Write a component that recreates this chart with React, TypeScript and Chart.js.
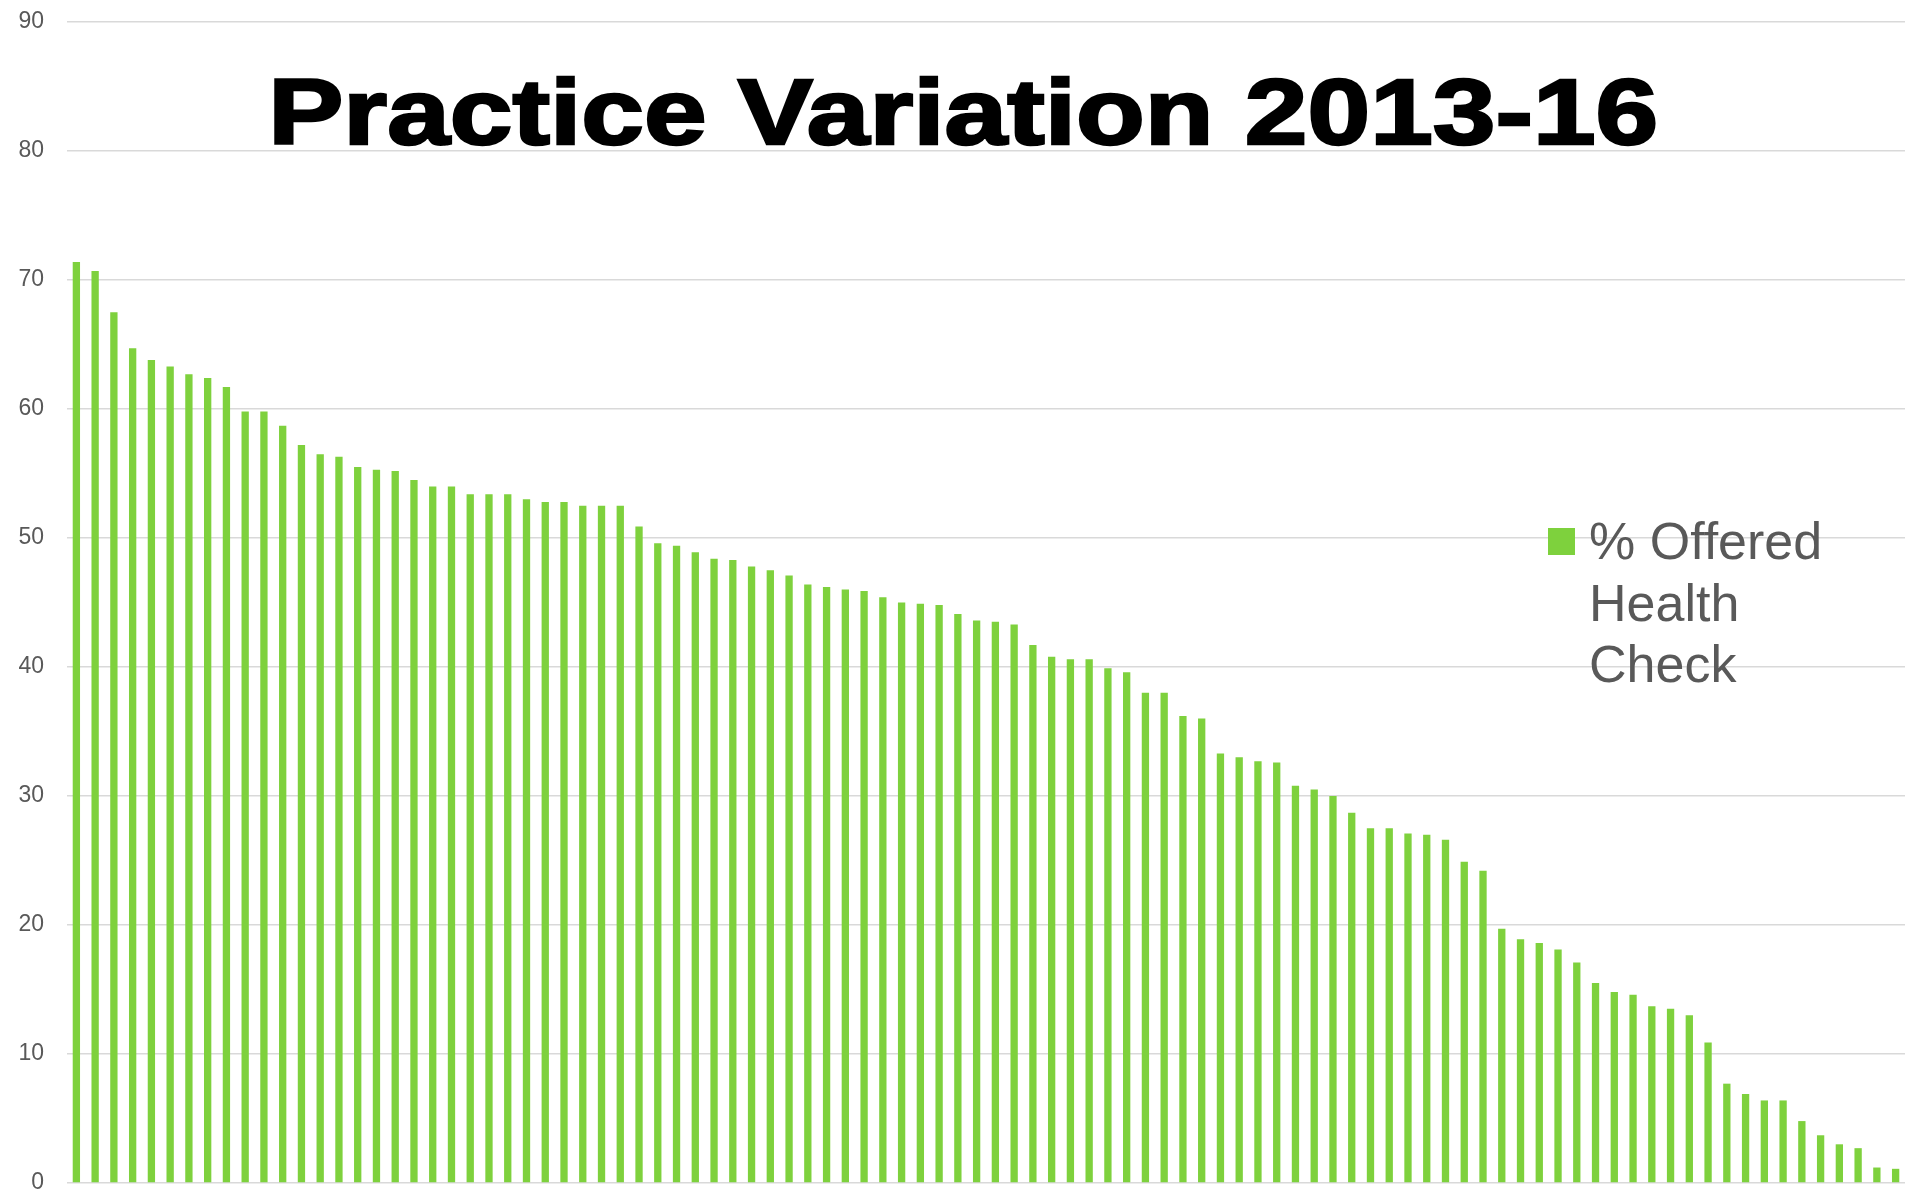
import React, { useEffect, useRef } from "react";
import { Chart, registerables } from "chart.js";

Chart.register(...registerables);

const chartTitle = "Practice Variation 2013-16";
const seriesLabel = ["% Offered", "Health", "Check"];
const yTicks = [0, 10, 20, 30, 40, 50, 60, 70, 80, 90];

const offeredValues: number[] = [
  71.4, 70.7, 67.5, 64.7, 63.8, 63.3, 62.7, 62.4, 61.7, 59.8,
  59.8, 58.7, 57.2, 56.5, 56.3, 55.5, 55.3, 55.2, 54.5, 54.0,
  54.0, 53.4, 53.4, 53.4, 53.0, 52.8, 52.8, 52.5, 52.5, 52.5,
  50.9, 49.6, 49.4, 48.9, 48.4, 48.3, 47.8, 47.5, 47.1, 46.4,
  46.2, 46.0, 45.9, 45.4, 45.0, 44.9, 44.8, 44.1, 43.6, 43.5,
  43.3, 41.7, 40.8, 40.6, 40.6, 39.9, 39.6, 38.0, 38.0, 36.2,
  36.0, 33.3, 33.0, 32.7, 32.6, 30.8, 30.5, 30.0, 28.7, 27.5,
  27.5, 27.1, 27.0, 26.6, 24.9, 24.2, 19.7, 18.9, 18.6, 18.1,
  17.1, 15.5, 14.8, 14.6, 13.7, 13.5, 13.0, 10.9, 7.7, 6.9,
  6.4, 6.4, 4.8, 3.7, 3.0, 2.7, 1.2, 1.1,
];

const practiceLabels: string[] = offeredValues.map((_, i) => `Practice ${i + 1}`);

const BAR_COLOR = "#7ed13d";
const TEXT_GRAY = "#595959";

const overlayPlugin = {
  id: "overlayText",
  afterDraw(chart: any) {
    const ctx = chart.ctx;
    ctx.save();
    // Title (heavy sans, stretched to the reference width)
    const targetLeft = 267;
    const targetWidth = 1393;
    const stroke = 2.5;
    ctx.font = `bold 93px "Liberation Sans", Arial, sans-serif`;
    const w = ctx.measureText(chartTitle).width + stroke;
    const sx = targetWidth / w;
    ctx.translate(targetLeft + stroke / 2, 0);
    ctx.scale(sx, 1);
    ctx.fillStyle = "#000000";
    ctx.strokeStyle = "#000000";
    ctx.lineWidth = stroke;
    ctx.lineJoin = "miter";
    ctx.textAlign = "left";
    ctx.textBaseline = "alphabetic";
    ctx.fillText(chartTitle, 0, 144);
    ctx.strokeText(chartTitle, 0, 144);
    ctx.restore();

    ctx.save();
    // Legend
    ctx.fillStyle = BAR_COLOR;
    ctx.fillRect(1548, 528, 27, 27);
    ctx.fillStyle = TEXT_GRAY;
    ctx.font = `52px "Liberation Sans", Arial, sans-serif`;
    ctx.textAlign = "left";
    ctx.textBaseline = "alphabetic";
    const baselines = [559, 621, 682];
    seriesLabel.forEach((t, i) => ctx.fillText(t, 1589, baselines[i]));
    ctx.restore();
  },
};

export default function App() {
  const canvasRef = useRef<HTMLCanvasElement | null>(null);

  useEffect(() => {
    const canvas = canvasRef.current;
    if (!canvas) return;
    const chart = new Chart(canvas, {
      type: "bar",
      data: {
        labels: practiceLabels,
        datasets: [
          {
            label: seriesLabel.join(" "),
            data: offeredValues,
            backgroundColor: BAR_COLOR,
            borderWidth: 0,
            barPercentage: 0.39,
            categoryPercentage: 1.0,
          },
        ],
      },
      options: {
        responsive: false,
        animation: false,
        devicePixelRatio: 1,
        layout: { padding: { top: 22, right: 0, bottom: 7, left: 0 } },
        plugins: {
          legend: { display: false },
          title: { display: false },
          tooltip: { enabled: false },
        },
        scales: {
          x: {
            type: "category",
            display: false,
            offset: true,
            grid: { display: false },
          },
          y: {
            min: 0,
            max: 90,
            afterBuildTicks: (scale: any) => {
              scale.ticks = yTicks.map((v) => ({ value: v }));
            },
            afterFit: (scale: any) => {
              scale.width = 67;
              scale.paddingTop = 0;
              scale.paddingBottom = 0;
            },
            border: { display: false },
            grid: {
              color: "#d9d9d9",
              lineWidth: 1.5,
              drawTicks: false,
              tickLength: 0,
            },
            ticks: {
              padding: 23,
              color: TEXT_GRAY,
              font: { family: '"Liberation Sans", Arial, sans-serif', size: 23 },
            },
          },
        },
      },
      plugins: [overlayPlugin],
    });
    return () => chart.destroy();
  }, []);

  return (
    <div style={{ position: "fixed", left: 0, top: 0, width: 1905, height: 1190, background: "#ffffff" }}>
      <canvas ref={canvasRef} width={1905} height={1190} style={{ display: "block" }} />
    </div>
  );
}
